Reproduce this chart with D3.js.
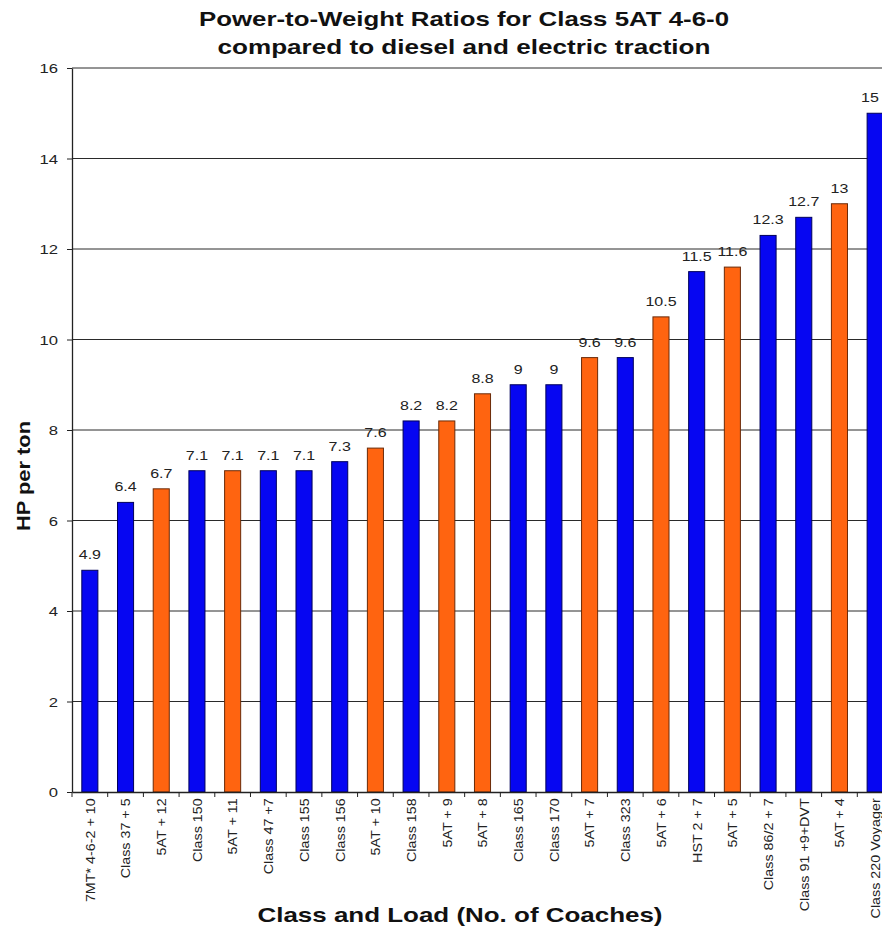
<!DOCTYPE html>
<html><head><meta charset="utf-8">
<script src="https://cdn.jsdelivr.net/npm/d3@7"></script>
<style>
html,body{margin:0;padding:0;background:#fff;overflow:hidden;}
svg{display:block;font-family:"Liberation Sans",Arial,sans-serif;}
</style></head>
<body>
<svg id="chart" width="882" height="928"></svg>
<script>
const categories = ["7MT* 4-6-2 + 10","Class 37 + 5","5AT + 12","Class 150","5AT + 11","Class 47 +7","Class 155","Class 156","5AT + 10","Class 158","5AT + 9","5AT + 8","Class 165","Class 170","5AT + 7","Class 323","5AT + 6","HST 2 + 7","5AT + 5","Class 86/2 + 7","Class 91 +9+DVT","5AT + 4","Class 220 Voyager"];
const values = [4.9,6.4,6.7,7.1,7.1,7.1,7.1,7.3,7.6,8.2,8.2,8.8,9,9,9.6,9.6,10.5,11.5,11.6,12.3,12.7,13,15];
const valueLabels = ["4.9","6.4","6.7","7.1","7.1","7.1","7.1","7.3","7.6","8.2","8.2","8.8","9","9","9.6","9.6","10.5","11.5","11.6","12.3","12.7","13","15"];
const isSteam = [false,false,true,false,true,false,false,false,true,false,true,true,false,false,true,false,true,false,true,false,false,true,false];
const yTicks = [0,2,4,6,8,10,12,14,16];
const titleLines = ["Power-to-Weight Ratios for Class 5AT 4-6-0","compared to diesel and electric traction"];
const xTitle = "Class and Load (No. of Coaches)";
const yTitle = "HP per ton";

(function(){
const svg = d3.select("#chart");
const mLeft = 72, mRight = 893, mTop = 68, mBottom = 792;
const stretch = 1.28;
const x = d3.scaleBand().domain(categories).range([mLeft, mRight]).paddingInner(0.55).paddingOuter(0.275);
const y = d3.scaleLinear().domain([0,16]).range([mBottom, mTop]);

// title
const titleLens = [530, 493];
svg.append("g").selectAll("text").data(titleLines).join("text")
  .attr("x", 464).attr("y", (d,i)=>26 + i*28)
  .attr("text-anchor","middle").attr("font-weight","bold").attr("font-size",21)
  .attr("textLength",(d,i)=>titleLens[i]).attr("lengthAdjust","spacingAndGlyphs")
  .attr("fill","#111").text(d=>d);

// gridlines
svg.append("g").selectAll("line").data(yTicks.filter(d=>d>0)).join("line")
  .attr("x1", mLeft).attr("x2", mRight).attr("y1", d=>y(d)).attr("y2", d=>y(d))
  .attr("stroke","#2a2a2a").attr("stroke-width",1);

// bars
const colorFill = d => d ? "#ff6410" : "#0606f2";
const colorStroke = d => d ? "#6a2a08" : "#00005a";
svg.append("g").selectAll("rect").data(categories).join("rect")
  .attr("x", d=>x(d)).attr("width", x.bandwidth())
  .attr("y", (d,i)=>y(values[i])).attr("height", (d,i)=>mBottom - y(values[i]))
  .attr("fill", (d,i)=>colorFill(isSteam[i]))
  .attr("stroke", (d,i)=>colorStroke(isSteam[i])).attr("stroke-width",1);

// value labels
svg.append("g").selectAll("text").data(categories).join("text")
  .attr("transform",(d,i)=>`translate(${Math.min(x(d)+x.bandwidth()/2, 870)},${y(values[i]) - 11}) scale(${stretch},1)`)
  .attr("text-anchor","middle").attr("font-size",12.5).attr("fill","#222")
  .text((d,i)=>valueLabels[i]);

// y axis
const yAxis = d3.axisLeft(y).tickValues(yTicks).tickSize(5).tickSizeOuter(0).tickFormat(d3.format("d"));
const gy = svg.append("g").attr("transform",`translate(${mLeft},0)`).call(yAxis);
gy.select(".domain").attr("stroke","#222").attr("stroke-width",1.3);
gy.selectAll(".tick line").attr("stroke","#222");
gy.selectAll(".tick text").attr("font-size",13).attr("fill","#222")
  .attr("x",null).attr("dy",null)
  .attr("transform",`translate(-14,4.5) scale(${stretch},1)`)
  .attr("font-family","Liberation Sans, Arial, sans-serif");

// x axis
const xAxis = d3.axisBottom(x).tickSize(0).tickSizeOuter(0);
const gx = svg.append("g").attr("transform",`translate(0,${mBottom})`).call(xAxis);
gx.select(".domain").attr("stroke","#222").attr("stroke-width",1.3);
gx.selectAll(".tick text")
  .attr("transform","rotate(-90) scale(1.06,1)").attr("text-anchor","end")
  .attr("x",-6).attr("y",0).attr("dy","0.36em")
  .attr("font-size",13.5).attr("fill","#222").attr("font-family","Liberation Sans, Arial, sans-serif");
const boundaries = categories.map(c => x(c) - x.step()*x.paddingInner()/2);
svg.append("g").selectAll("line").data(boundaries).join("line")
  .attr("x1",d=>d).attr("x2",d=>d).attr("y1",mBottom).attr("y2",mBottom+5)
  .attr("stroke","#222");

// axis titles
svg.append("text").attr("x",460).attr("y",922).attr("text-anchor","middle")
  .attr("font-weight","bold").attr("font-size",21)
  .attr("textLength",405).attr("lengthAdjust","spacingAndGlyphs")
  .attr("fill","#111").text(xTitle);
svg.append("text").attr("transform","translate(30,476) rotate(-90)").attr("text-anchor","middle")
  .attr("font-weight","bold").attr("font-size",18)
  .attr("textLength",110).attr("lengthAdjust","spacingAndGlyphs")
  .attr("fill","#111").text(yTitle);
})();
</script>
</body></html>
